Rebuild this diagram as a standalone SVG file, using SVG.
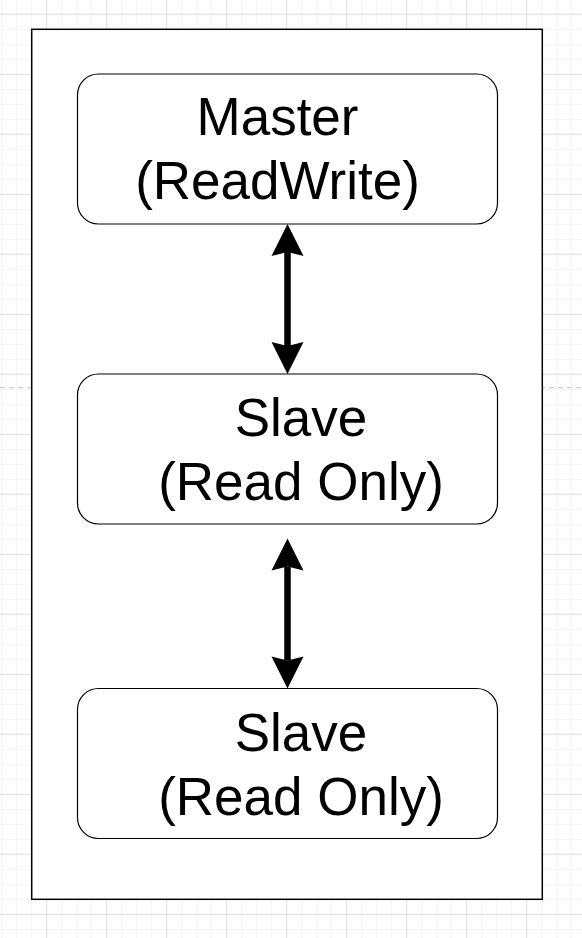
<svg xmlns="http://www.w3.org/2000/svg" width="582" height="938" viewBox="0 0 582 938">
  <style>
    .container { fill: #ffffff; stroke: #000000; stroke-width: 1.5; }
    .node rect { fill: #ffffff; stroke: #000000; stroke-width: 1.2; }
    .node text { font-family: "Liberation Sans", Arial, Helvetica, sans-serif; font-size: 53px; fill: #000000; text-anchor: middle; }
    .shaft { stroke: #000000; stroke-width: 6.5; fill: none; }
  </style>
  <defs>
    <pattern id="grid" patternUnits="userSpaceOnUse" x="-13.8" y="13.8" width="60" height="60">
      <rect x="0" y="0" width="60" height="60" fill="#ffffff"/>
      <g fill="#f3f3f3">
        <rect x="15" y="0" width="1" height="60"/>
        <rect x="30" y="0" width="1" height="60"/>
        <rect x="45" y="0" width="1" height="60"/>
        <rect x="0" y="15" width="60" height="1"/>
        <rect x="0" y="30" width="60" height="1"/>
        <rect x="0" y="45" width="60" height="1"/>
      </g>
      <g fill="#dedede">
        <rect x="0" y="0" width="1" height="60"/>
        <rect x="0" y="0" width="60" height="1"/>
      </g>
    </pattern>
    <marker id="head" markerUnits="userSpaceOnUse" markerWidth="40" markerHeight="40" refX="0" refY="0" orient="auto-start-reverse" overflow="visible">
      <path d="M28,0 L-4,-16 L0,0 L-4,16 Z" fill="#000000"/>
    </marker>
  </defs>

  <rect x="0" y="0" width="582" height="938" fill="url(#grid)"/>
  <line x1="0" y1="387.7" x2="582" y2="387.7" stroke="#c4c4c4" stroke-width="1" stroke-dasharray="5 4"/>

  <rect id="container" class="container" x="31.7" y="29.3" width="510.6" height="870"/>

  <g id="node-master" class="node">
    <rect x="77.5" y="74" width="420" height="150" rx="21" ry="21"/>
    <text x="277.5" y="135">Master</text>
    <text x="277.5" y="199">(ReadWrite)</text>
  </g>

  <g id="node-slave1" class="node">
    <rect x="77.5" y="374" width="420" height="150" rx="21" ry="21"/>
    <text x="301" y="436">Slave</text>
    <text x="301" y="500">(Read Only)</text>
  </g>

  <g id="node-slave2" class="node">
    <rect x="77.5" y="688.5" width="420" height="150" rx="21" ry="21"/>
    <text x="301" y="751">Slave</text>
    <text x="301" y="815">(Read Only)</text>
  </g>

  <g id="connectors">
    <line class="shaft" x1="287.5" y1="252" x2="287.5" y2="346" marker-start="url(#head)" marker-end="url(#head)"/>
    <line class="shaft" x1="287.5" y1="566.5" x2="287.5" y2="660.5" marker-start="url(#head)" marker-end="url(#head)"/>
  </g>
</svg>
